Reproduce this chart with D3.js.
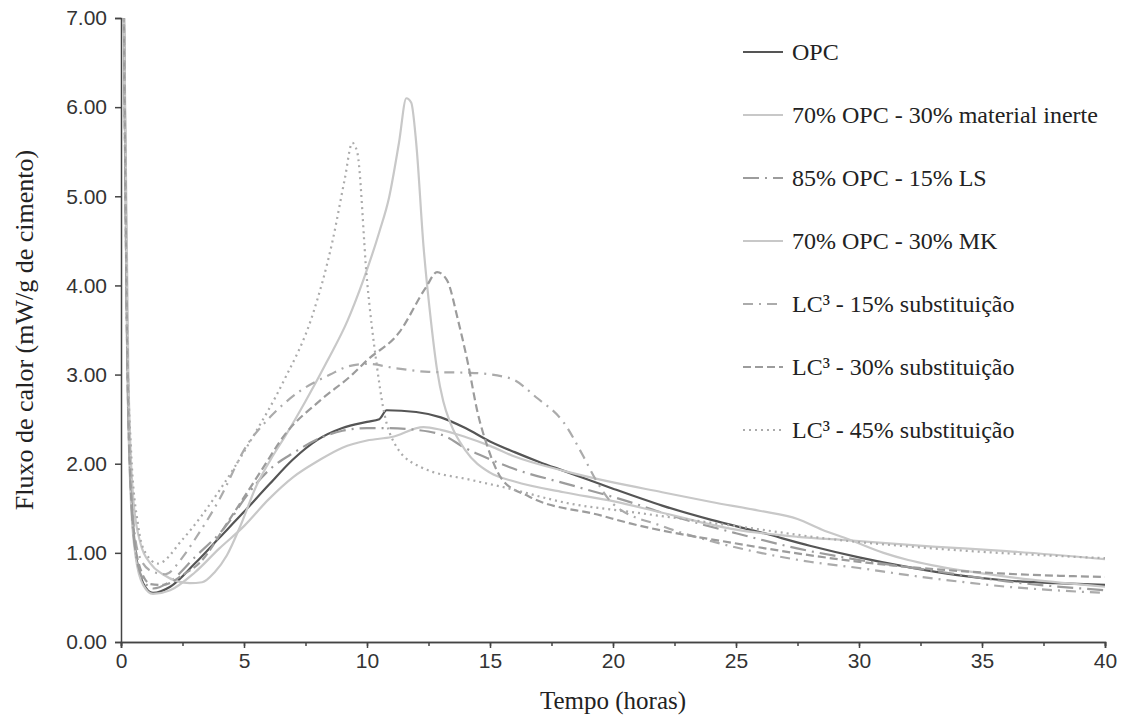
<!DOCTYPE html>
<html lang="pt">
<head>
<meta charset="UTF-8">
<title>Fluxo de calor</title>
<style>
  body, html { margin: 0; padding: 0; background: #fff; }
  svg { display: block; }
  .axis path, .axis line { stroke: #444; stroke-width: 1.5; }
  .serif { font-family: "Liberation Serif", "Times New Roman", serif; fill: #222; }
</style>
</head>
<body>
<svg id="svg" width="1126" height="724"></svg>
<script src="https://d3js.org/d3.v7.min.js"></script>
<script>
// data: [tempo (h), fluxo (mW/g)]
const opc = [[0.1,7.6],[0.25,3.5],[0.4,1.8],[0.6,1.0],[0.9,0.66],[1.3,0.55],[2,0.62],[3,0.88],[4,1.17],[5,1.46],[6,1.76],[7,2.05],[8,2.27],[9,2.4],[10,2.47],[10.5,2.5],[10.8,2.6],[12,2.58],[13,2.52],[14,2.4],[15,2.25],[16,2.13],[17,2.02],[18,1.92],[19,1.82],[20,1.72],[22,1.53],[24,1.37],[26,1.23],[28,1.08],[30,0.95],[32,0.84],[34,0.75],[36,0.69],[38,0.66],[40,0.64]]
const inerte = [[0.1,7.6],[0.25,3.2],[0.4,1.6],[0.6,0.95],[0.9,0.64],[1.3,0.54],[2,0.58],[3,0.78],[4,1.05],[5,1.3],[6,1.6],[7,1.85],[8,2.03],[9,2.18],[10,2.26],[11,2.3],[12.3,2.41],[13,2.38],[14,2.3],[15,2.2],[16,2.08],[18,1.92],[20,1.79],[22,1.68],[24,1.57],[26,1.47],[27.5,1.38],[28.5,1.26],[29.6,1.15],[31,1.0],[32,0.92],[33,0.86],[35,0.77],[37,0.7],[40,0.62]]
const ls = [[0.1,7.6],[0.25,3.3],[0.4,1.7],[0.6,1.0],[0.9,0.7],[1.3,0.6],[2,0.68],[3,0.95],[4.4,1.35],[5,1.6],[6.1,1.95],[7,2.12],[8.2,2.3],[9,2.37],[10,2.4],[10.8,2.4],[12,2.38],[13.25,2.3],[13.9,2.19],[15,2.05],[15.8,1.96],[18.3,1.76],[20.8,1.56],[22,1.45],[25,1.22],[28,1.02],[30,0.92],[33,0.8],[36,0.68],[40,0.58]]
const mk = [[0.1,7.6],[0.3,3.0],[0.5,1.6],[0.8,1.1],[1.2,0.88],[1.7,0.76],[2.3,0.68],[2.8,0.66],[3.3,0.67],[3.8,0.78],[4.3,0.97],[4.85,1.3],[5.5,1.75],[6.2,2.1],[6.7,2.32],[7.5,2.7],[8.4,3.16],[9.2,3.6],[9.85,4.06],[10.5,4.6],[10.9,4.99],[11.3,5.6],[11.6,6.1],[11.8,6.05],[12.0,5.6],[12.3,4.43],[12.6,3.6],[12.85,3.05],[13.1,2.7],[13.4,2.45],[14,2.15],[15,1.9],[16,1.8],[18,1.68],[20,1.58],[22,1.45],[25,1.26],[27.5,1.18],[29.6,1.14],[33,1.07],[36,1.02],[40,0.93]]
const lc15 = [[0.1,7.6],[0.25,3.4],[0.4,1.8],[0.7,1.0],[1.2,0.8],[1.8,0.76],[2.5,0.95],[3,1.15],[4,1.6],[5.1,2.2],[6.05,2.52],[7.3,2.82],[8.5,3.0],[9.2,3.09],[10,3.12],[11.2,3.07],[12.5,3.03],[14.2,3.02],[15.8,2.96],[16.9,2.74],[18,2.46],[18.8,2.08],[19.3,1.82],[20,1.55],[22,1.3],[24,1.13],[26,1.0],[28,0.9],[30,0.83],[32,0.75],[34,0.68],[36,0.62],[38,0.58],[40,0.55]]
const lc30 = [[0.1,7.6],[0.25,3.3],[0.4,1.7],[0.7,0.9],[1.2,0.65],[1.7,0.64],[2.5,0.75],[3.2,0.89],[4.4,1.37],[5.65,1.9],[6.7,2.34],[8.1,2.71],[9.4,3.0],[10,3.16],[11.3,3.47],[12.4,3.98],[12.85,4.15],[13.25,4.06],[13.7,3.61],[14.1,3.13],[14.5,2.57],[14.9,2.19],[15.5,1.82],[16.6,1.63],[19.5,1.42],[20.7,1.33],[24.9,1.11],[30.3,0.89],[35.7,0.77],[40,0.73]]
const lc45 = [[0.1,7.6],[0.25,3.5],[0.4,2.2],[0.7,1.3],[1.0,1.0],[1.5,0.88],[2.5,1.15],[4.05,1.72],[5.4,2.32],[6.6,2.92],[7.8,3.68],[8.6,4.5],[9.1,5.2],[9.4,5.6],[9.6,5.5],[10,4.06],[10.4,3.1],[10.65,2.64],[11.2,2.19],[12.2,1.96],[14.2,1.82],[15.5,1.74],[18.3,1.55],[20.7,1.46],[25,1.3],[29,1.15],[33,1.05],[40,0.94]]

const labels = ['OPC', '70% OPC - 30% material inerte', '85% OPC - 15% LS', '70% OPC - 30% MK',
  'LC³ - 15% substituição', 'LC³ - 30% substituição', 'LC³ - 45% substituição']
const series = [opc, inerte, ls, mk, lc15, lc30, lc45]
const colors = ['#555555', '#c8c8c8', '#9c9c9c', '#c8c8c8', '#ababab', '#9c9c9c', '#ababab']
const dashes = ['none', 'none', '16,6,2,6', 'none', '10,6,2,6', '8,4', '2,4']

const yTicks = [0, 1, 2, 3, 4, 5, 6, 7]
const xTicks = [0, 5, 10, 15, 20, 25, 30, 35, 40]

const svg = d3.select('#svg')
const x = d3.scaleLinear().domain([0, 40]).range([121, 1105])
const y = d3.scaleLinear().domain([0, 7]).range([642, 18])

svg.append('clipPath').attr('id', 'clip')
  .append('rect').attr('x', 121).attr('y', 18).attr('width', 984).attr('height', 624)

const line = d3.line()
  .x(d => x(d[0]))
  .y(d => y(d[1]))
  .curve(d3.curveMonotoneX)

series.forEach((s, i) => {
  svg.append('path')
    .attr('clip-path', 'url(#clip)')
    .attr('d', line(s))
    .attr('fill', 'none')
    .attr('stroke', colors[i])
    .attr('stroke-width', 2.2)
    .attr('stroke-dasharray', dashes[i])
})

// axes
function styleTicks(g) {
  g.attr('font-family', '"Liberation Sans", Arial, sans-serif').attr('font-size', 21)
  g.selectAll('.tick text').attr('fill', '#333')
}

svg.append('g').attr('class', 'axis')
  .attr('transform', 'translate(121,0)')
  .call(d3.axisLeft(y).tickValues(yTicks).tickFormat(d3.format('.2f')).tickSizeOuter(0).tickSize(6).tickPadding(8))
  .call(styleTicks)

svg.append('g').attr('class', 'axis')
  .attr('transform', 'translate(0,642)')
  .call(d3.axisBottom(x).tickValues(d3.range(0, 40.1, 2.5)).tickFormat('').tickSizeOuter(0).tickSize(4))

svg.append('g').attr('class', 'axis')
  .attr('transform', 'translate(0,642)')
  .call(d3.axisBottom(x).tickValues(xTicks).tickSizeOuter(0).tickSize(6).tickPadding(5))
  .call(styleTicks)

svg.append('text').attr('class', 'serif')
  .attr('x', 613).attr('y', 709)
  .attr('text-anchor', 'middle').attr('font-size', 25)
  .text('Tempo (horas)')

svg.append('text').attr('class', 'serif')
  .attr('transform', 'translate(33,330) rotate(-90)')
  .attr('text-anchor', 'middle').attr('font-size', 26)
  .text('Fluxo de calor (mW/g de cimento)')

// legend
const legend = svg.append('g')
labels.forEach((l, i) => {
  const ly = 52 + i * 63
  legend.append('line')
    .attr('x1', 743).attr('x2', 783).attr('y1', ly).attr('y2', ly)
    .attr('stroke', colors[i]).attr('stroke-width', 2.2)
    .attr('stroke-dasharray', dashes[i])
  legend.append('text').attr('class', 'serif')
    .attr('x', 792).attr('y', ly + 8)
    .attr('font-size', 24)
    .text(l)
})
</script>
</body>
</html>
